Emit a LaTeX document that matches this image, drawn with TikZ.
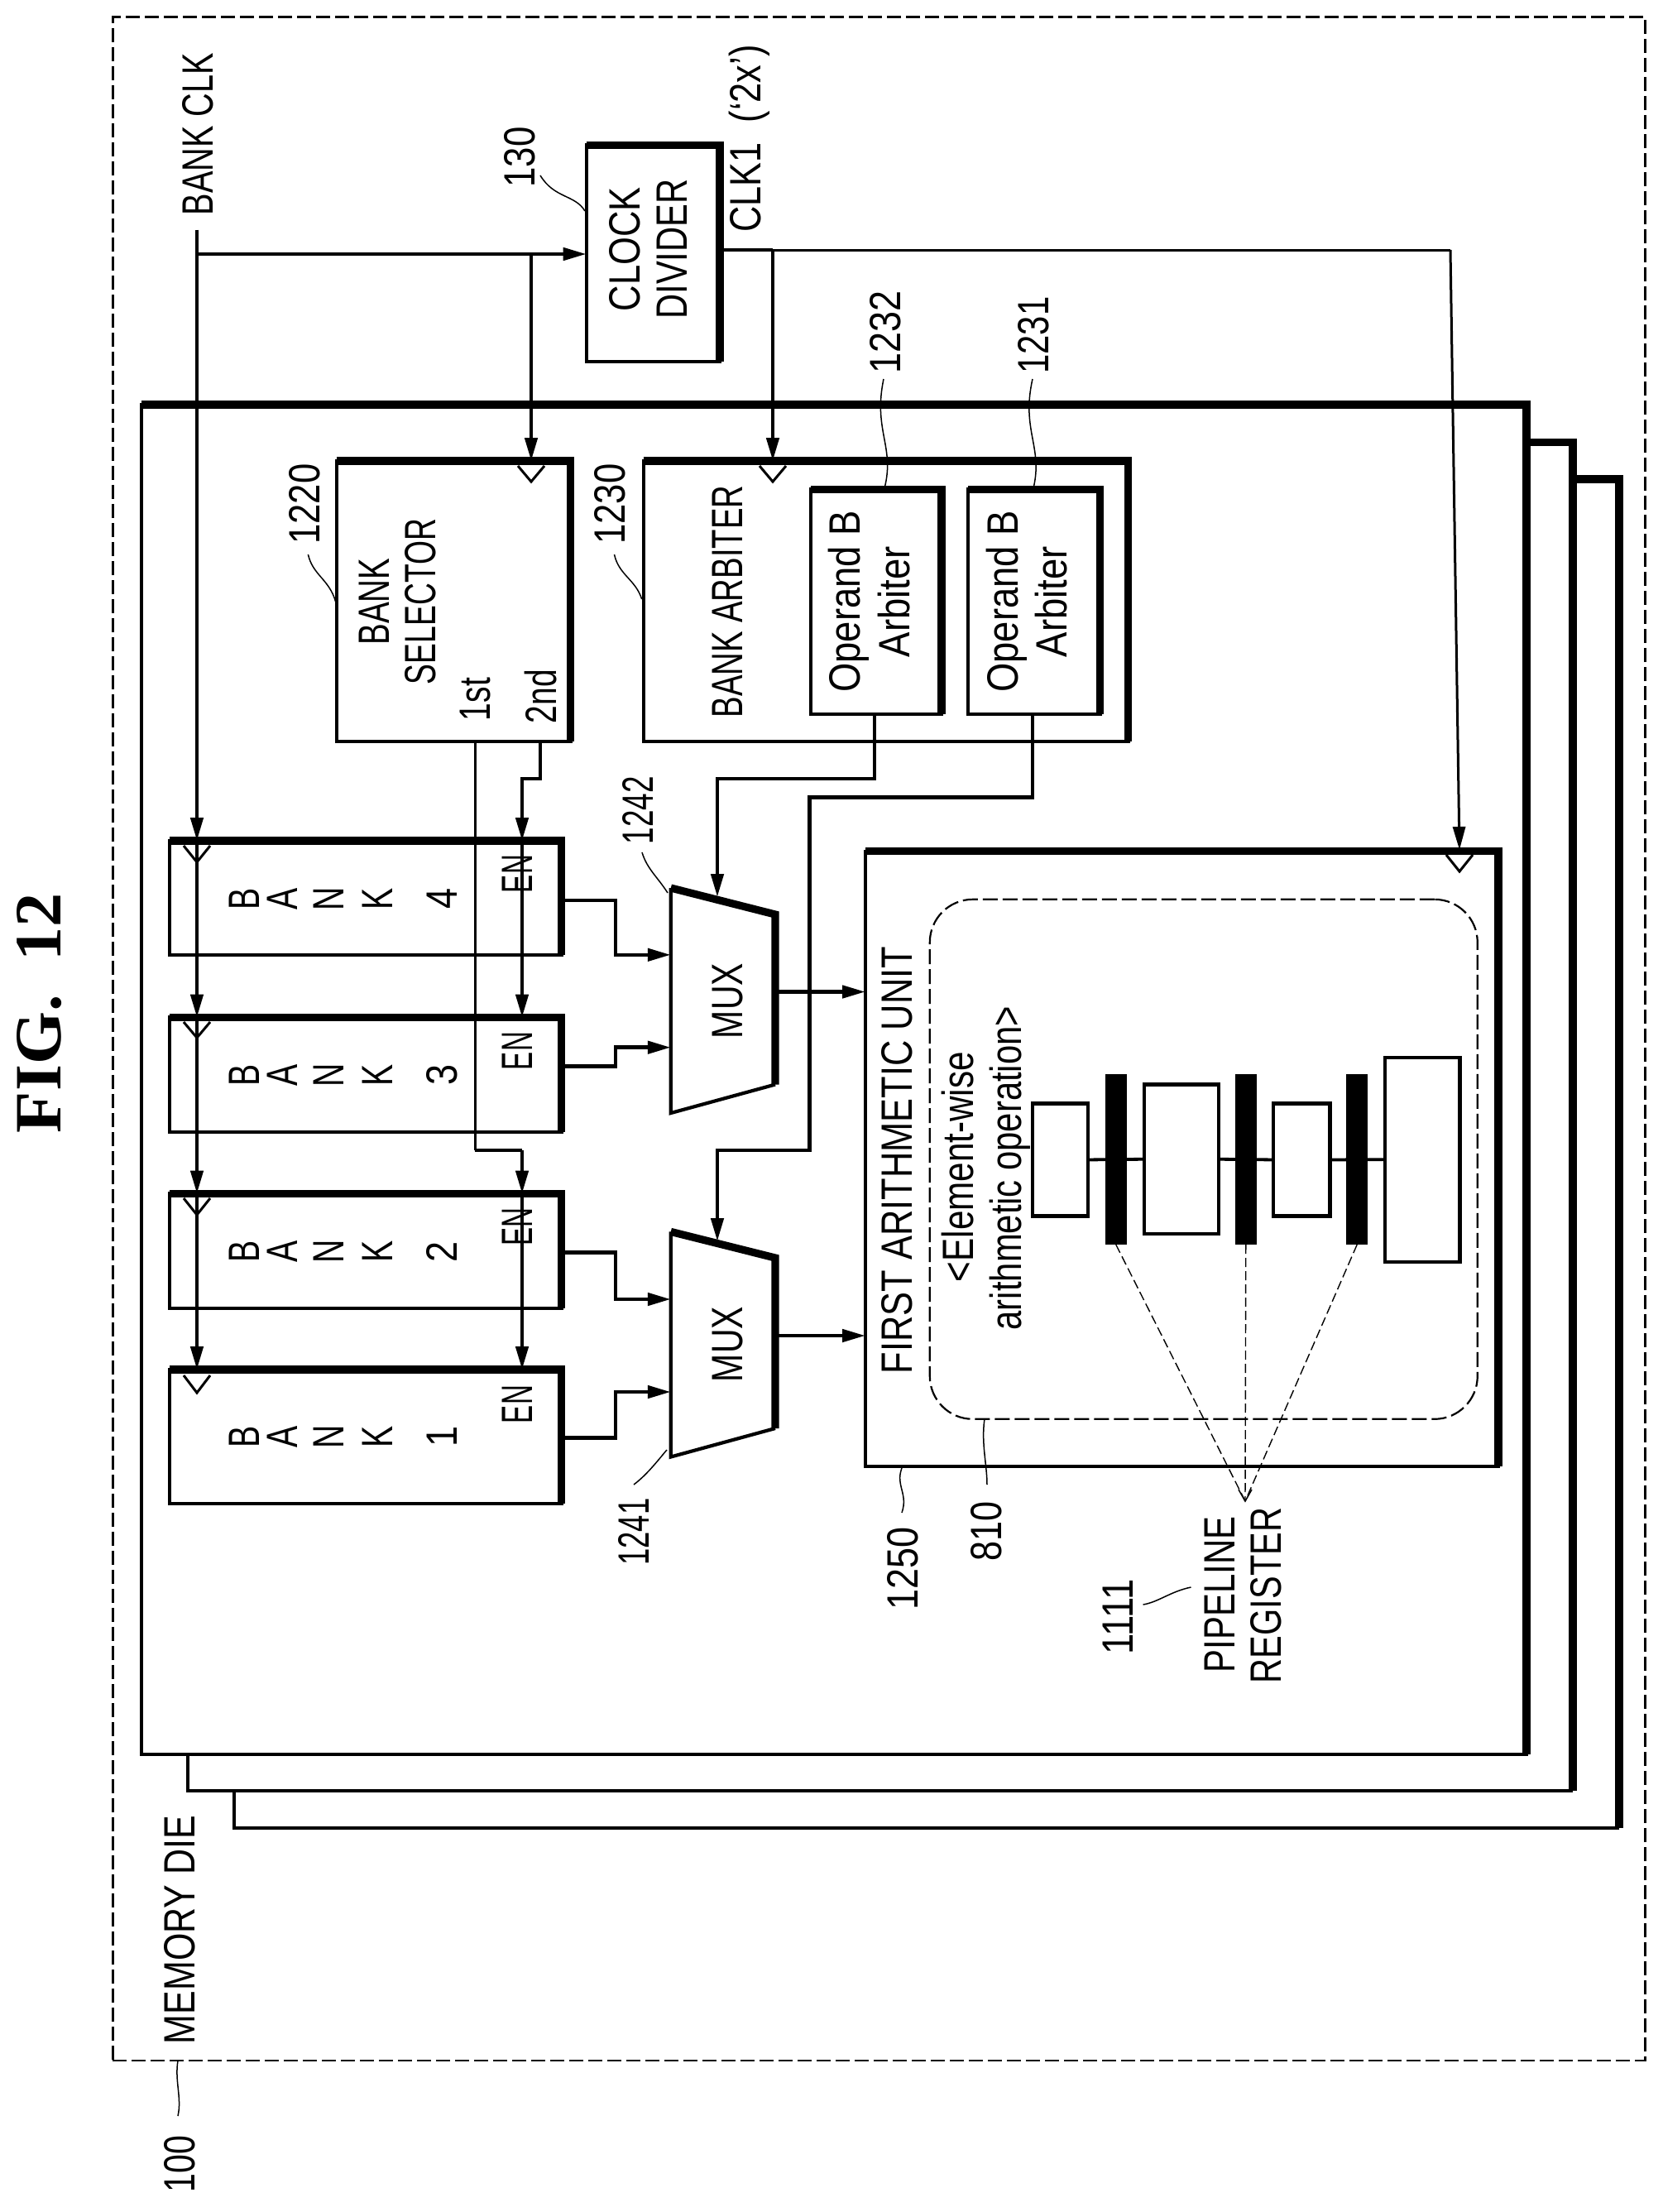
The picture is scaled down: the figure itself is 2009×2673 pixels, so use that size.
\documentclass[tikz,border=0pt]{standalone}
\usepackage{fontspec}
\usepackage{graphicx}
\setmainfont{Liberation Sans}
\newfontfamily\titlefont{Liberation Serif}
\usetikzlibrary{arrows.meta,calc}
\newcommand\TX[2]{\resizebox{\dimexpr#1pt/2\relax}{\height}{#2}}
\newcommand\Bp[5]{%
  \pgfmathsetmacro\bxw{(#4-#2)/2}\pgfmathsetmacro\bxh{(#5-#3)/2}%
  \pgfmathsetmacro\bxx{(#2+#4)/2}\pgfmathsetmacro\bxy{(#3+#5)/2}%
  \node[thinbox,minimum width=\bxw pt,minimum height=\bxh pt] (#1) at (\bxx,\bxy) {};
}
\newcommand\Bx[5]{%
  \Bp{#1}{#2}{#3}{#4}{#5}
  \draw[thickedge] (#1.north west) -- (#1.north east) -- (#1.south east);
}
\newcommand\Clk[3]{% x, ytop, yapex
  \draw[clkmark] (#1-16,#2) -- (#1,#3) -- (#1+16,#2);
}
\newcommand\Leader[5]{% name start c1 c2 end
  \coordinate (#1a) at (#2); \coordinate (#1b) at (#5);
  \draw[leader] (#1a) .. controls (#3) and (#4) .. (#1b);
}
\tikzset{
  thinbox/.style={draw,line width=2.1pt,rectangle,inner sep=0pt,outer sep=0pt},
  thickedge/.style={line width=4.6pt,line join=miter},
  thinedge/.style={line width=2.1pt,line join=miter},
  wire/.style={line width=2.3pt,line join=miter},
  fine/.style={line width=1.5pt,line join=miter},
  stub/.style={line width=1.9pt},
  tip/.style={-{Triangle[length=14pt,width=7.5pt]}},
  clkmark/.style={line width=1.5pt},
  leader/.style={line width=0.75pt},
  lbl/.style={rotate=90,inner sep=0pt,outer sep=0pt,text height=19pt,text depth=0pt,font=\fontsize{26.5}{30}\selectfont},
  letter/.style={lbl},
  dashbox/.style={draw,line width=1.1pt,dash pattern=on 8.5pt off 3pt,rectangle,inner sep=0pt,outer sep=0pt},
  pipedash/.style={line width=0.7pt,dash pattern=on 5.5pt off 2.5pt},
  inner/.style={draw,line width=1.1pt,rectangle,inner sep=0pt,outer sep=0pt},
  reg/.style={fill=black,rectangle,inner sep=0pt,outer sep=0pt},
}
\begin{document}
\begin{tikzpicture}[x=0.5pt,y=-0.5pt]
\path[use as bounding box,fill=white] (0,0) rectangle (2009,2673);

% title
\node[rotate=90,inner sep=0pt,font=\fontsize{40}{44}\selectfont\titlefont\bfseries,text height=26.5pt,text depth=0pt] (title) at (46.7,1224) {\resizebox{145pt}{\height}{FIG.\ \ 12}};

% memory die outline
\node[dashbox,minimum width=926pt,minimum height=1234.8pt] (die) at (1062.4,1255.2) {};
\node[lbl] (tdie) at (216,2332) {\TX{276}{MEMORY DIE}};
\node[lbl] (t100) at (216,2615) {\TX{68.5}{100}};
\Leader{L100}{215,2490}{211,2515}{220,2535}{215,2557}

% stacked dies
\Bx{main}{170.8}{489}{1845}{2119.6}
\draw[thickedge] (1845,534.6) -- (1901,534.6) -- (1901,2164);
\draw[thinedge] (1901,2164) -- (227,2164) -- (227,2119.6);
\draw[thickedge] (1901,579) -- (1957,579) -- (1957,2209);
\draw[thinedge] (1957,2209) -- (283,2209) -- (283,2164);

% clock divider
\Bx{cd}{708.7}{175.5}{870}{437}
\node[lbl] (tcd1) at (754.6,301) {\TX{150}{CLOCK}};
\node[lbl] (tcd2) at (811,301) {\TX{169}{DIVIDER}};
\node[lbl] (t130) at (627.6,190) {\TX{73}{130}};
\Leader{L130}{653,212}{670,240}{695,235}{707,255}
\node[lbl] (tclk) at (238.5,162) {\TX{196}{BANK CLK}};
\node[lbl] (tclk1) at (900,167.5) {\TX{226}{CLK1\ \ (‘2x’)}};

% bank selector
\Bx{sel}{407}{557}{689.5}{896}
\Clk{642}{563}{582}
\node[lbl] (ts1) at (451,727) {\TX{105}{BANK}};
\node[lbl] (ts2) at (507.7,727) {\TX{200}{SELECTOR}};
\node[lbl] (ts3) at (573.4,845) {\TX{52}{1st}};
\node[lbl] (ts4) at (653,841.5) {\TX{65}{2nd}};
\node[lbl] (t1220) at (367,609) {\TX{97}{1220}};
\Leader{L1220}{372.4,670}{378,695}{398,700}{405.6,727}

% bank arbiter
\Bx{arb}{777.6}{557}{1363.6}{896}
\Clk{934}{563}{582}
\node[lbl] (ta) at (878,727) {\TX{281}{BANK ARBITER}};
\node[lbl] (t1230) at (736,609) {\TX{97}{1230}};
\Leader{L1230}{742.5,670}{748,695}{768,700}{775.7,724}
\Bx{opb}{980}{591.4}{1138}{863}
\Bx{opa}{1170}{591.4}{1329.5}{863}
\node[lbl] (tb1) at (1020,727) {\TX{219.5}{Operand B}};
\node[lbl] (tb2) at (1080.6,727) {\TX{134}{Arbiter}};
\node[lbl] (tc1) at (1211,727) {\TX{219.5}{Operand B}};
\node[lbl] (tc2) at (1270,727) {\TX{134}{Arbiter}};
\node[lbl] (t1232) at (1069,401) {\TX{100}{1232}};
\node[lbl] (t1231) at (1248,405) {\TX{93}{1231}};
\Leader{L1232}{1068,458}{1055,520}{1082,540}{1069,590}
\Leader{L1231}{1248,458}{1234,520}{1261,540}{1249,590}

% banks
\Bx{bank4}{204.6}{1016}{678.7}{1153.8}
\Bx{bank3}{204.6}{1229.5}{678.7}{1368}
\Bx{bank2}{204.6}{1442.5}{678.7}{1581}
\Bx{bank1}{204.6}{1655}{678.7}{1817}
\Clk{238}{1022}{1041.8}
\Clk{238}{1235}{1254}
\Clk{238}{1448}{1468}
\Clk{238}{1662}{1683}
\foreach \n/\yy/\ye in {4/1086/1056,3/1299/1270,2/1512.5/1482.7,1/1736/1697}{
  \foreach \c/\xx/\id in {B/294.6/a,A/340.5/b,N/396.7/c,K/455.4/d}{
    \node[letter] (bk\n\id) at (\xx,\yy) {\scalebox{.74}[1]{\c}};
  }
  \node[letter] (bk\n e) at (533.2,\yy) {\scalebox{.85}[1]{\n}};
  \node[lbl] (en\n) at (624.5,\ye) {\TX{46}{EN}};
}

% muxes
\coordinate (m2a) at (810.8,1073); \coordinate (m2b) at (937,1105);
\coordinate (m2c) at (937,1310.5); \coordinate (m2d) at (810.8,1345);
\draw[thinedge] (m2c) -- (m2d) -- (m2a);
\draw[thickedge] (m2a) -- (m2b) -- (m2c);
\coordinate (m1a) at (810.8,1488.4); \coordinate (m1b) at (937,1520);
\coordinate (m1c) at (937,1726); \coordinate (m1d) at (810.8,1760.5);
\draw[thinedge] (m1c) -- (m1d) -- (m1a);
\draw[thickedge] (m1a) -- (m1b) -- (m1c);
\node[lbl] (tm2) at (878,1209.5) {\TX{91}{MUX}};
\node[lbl] (tm1) at (878,1624.5) {\TX{91}{MUX}};
\node[lbl] (t1242) at (770,979) {\TX{82}{1242}};
\node[lbl] (t1241) at (765,1851) {\TX{81}{1241}};
\Leader{L1242}{776,1030}{782,1050}{795,1060}{807,1079}
\Leader{L1241}{766,1794}{782,1782}{795,1765}{806,1752}

% arithmetic unit
\Bx{au}{1046}{1028.6}{1811}{1772}
\Clk{1764}{1033}{1053}
\node[lbl] (tau) at (1083.7,1402) {\TX{516}{FIRST ARITHMETIC UNIT}};
\node[inner,dash pattern=on 9pt off 3pt,rounded corners=26pt,minimum width=331pt,minimum height=314pt] (ew) at (1454.8,1400.8) {};
\node[lbl] (tew1) at (1157.7,1410) {\TX{278}{<Element-wise}};
\node[lbl] (tew2) at (1215.6,1411.5) {\TX{391.5}{arithmetic operation>}};
\node[lbl] (t1250) at (1090,1895) {\TX{100}{1250}};
\Leader{L1250}{1090,1774}{1082,1795}{1098,1805}{1090,1828}
\node[lbl] (t810) at (1191.8,1850) {\TX{72}{810}};
\Leader{L810}{1189.8,1716}{1186,1745}{1193,1770}{1193,1794}

% pipeline blocks
\Bp{blA}{1247.7}{1333.4}{1315}{1469.5}
\Bp{blB}{1383}{1310.5}{1473}{1491}
\Bp{blC}{1539}{1333.4}{1607.5}{1469.5}
\Bp{blD}{1673.7}{1277.8}{1764.5}{1524.6}
\node[reg,minimum width=12.8pt,minimum height=103pt] (rg1) at (1348.8,1401) {};
\node[reg,minimum width=12.8pt,minimum height=103pt] (rg2) at (1505.8,1401) {};
\node[reg,minimum width=12.8pt,minimum height=103pt] (rg3) at (1640.2,1401) {};
\draw[stub] (blA.east) -- (blB.west);
\draw[stub] (blB.east) -- (blC.west);
\draw[stub] (blC.east) -- (blD.west);
\coordinate (apex) at (1505,1814);
\draw[pipedash] (rg1.south) -- (apex);
\draw[pipedash] (rg2.south) -- (apex);
\draw[pipedash] (rg3.south) -- (apex);
\coordinate (apL) at (1497,1800); \coordinate (apR) at (1513,1800);
\draw[leader] (apL) -- (apex) -- (apR);
\node[lbl] (tp1) at (1473,1927) {\TX{188.6}{PIPELINE}};
\node[lbl] (tp2) at (1529,1928) {\TX{212}{REGISTER}};
\node[lbl] (t1111) at (1350.7,1954) {\TX{91}{1111}};
\Leader{L1111}{1381.6,1939}{1400,1936}{1415,1923}{1439.5,1918}

% clock wiring
\coordinate (clkT) at (238,277.5);
\coordinate (clkJ) at (238,307);
\coordinate (selJ) at (642,307);
\coordinate (ck4) at (clkT |- bank4.north);
\coordinate (ck3) at (clkT |- bank3.north);
\coordinate (ck2) at (clkT |- bank2.north);
\coordinate (ck1) at (clkT |- bank1.north);
\draw[wire,tip] (clkT) -- (ck4);
\draw[wire,tip] (ck4) -- (ck3);
\draw[wire,tip] (ck3) -- (ck2);
\draw[wire,tip] (ck2) -- (ck1);
\draw[wire,tip] (clkJ) -- (clkJ -| cd.west);
\draw[wire,tip] (selJ) -- (selJ |- sel.north);
\coordinate (cdo) at (870,302);
\coordinate (cdm) at (934,302);
\coordinate (cdr) at (1753,302);
\coordinate (auck) at (1764,1027);
\draw[fine] (cdo) -- (cdr);
\draw[fine,tip] (cdr) -- (auck);
\draw[wire] (cdo) -- (cdm);
\draw[wire,tip] (cdm) -- (cdm |- arb.north);

% selector wiring
\coordinate (s1a) at (574,896);
\coordinate (s1b) at (574,1390);
\coordinate (s1c) at (631,1390);
\coordinate (en2) at (s1c |- bank2.north);
\coordinate (en1) at (s1c |- bank1.north);
\draw[fine] (s1a) -- (s1b);
\draw[wire] (s1b) -- (s1c);
\draw[wire,tip] (s1c) -- (en2);
\draw[wire,tip] (en2) -- (en1);
\coordinate (s2a) at (653,896);
\coordinate (s2b) at (653,941);
\coordinate (s2c) at (631,941);
\coordinate (en4) at (s2c |- bank4.north);
\coordinate (en3) at (s2c |- bank3.north);
\draw[wire,tip] (s2a) -- (s2b) -- (s2c) -- (en4);
\draw[wire,tip] (en4) -- (en3);

% arbiter wiring
\coordinate (o2a) at (1057,863);
\coordinate (o2b) at (1057,941);
\coordinate (o2c) at (867,941);
\coordinate (o2d) at (867,1084);
\draw[wire,tip] (o2a) -- (o2b) -- (o2c) -- (o2d);
\coordinate (o1a) at (1248,863);
\coordinate (o1b) at (1248,963.5);
\coordinate (o1c) at (978.6,963.5);
\coordinate (o1d) at (978.6,1390);
\coordinate (o1e) at (867,1390);
\coordinate (o1f) at (867,1500);
\draw[wire,tip] (o1a) -- (o1b) -- (o1c) -- (o1d) -- (o1e) -- (o1f);

% bank to mux wiring
\coordinate (b4o) at (678.7,1088); \coordinate (b4m) at (743.8,1088); \coordinate (b4n) at (743.8,1153.8); \coordinate (b4t) at (810.8,1153.8);
\coordinate (b3o) at (678.7,1288.7); \coordinate (b3m) at (743.8,1288.7); \coordinate (b3n) at (743.8,1265.7); \coordinate (b3t) at (810.8,1265.7);
\coordinate (b2o) at (678.7,1513.7); \coordinate (b2m) at (743.8,1513.7); \coordinate (b2n) at (743.8,1570); \coordinate (b2t) at (810.8,1570);
\coordinate (b1o) at (678.7,1737.5); \coordinate (b1m) at (743.8,1737.5); \coordinate (b1n) at (743.8,1682); \coordinate (b1t) at (810.8,1682);
\draw[wire,tip] (b4o) -- (b4m) -- (b4n) -- (b4t);
\draw[wire,tip] (b3o) -- (b3m) -- (b3n) -- (b3t);
\draw[wire,tip] (b2o) -- (b2m) -- (b2n) -- (b2t);
\draw[wire,tip] (b1o) -- (b1m) -- (b1n) -- (b1t);

% mux to arithmetic unit
\coordinate (mo2) at (937,1198.5);
\coordinate (mo1) at (937,1614);
\draw[wire,tip] (mo2) -- (mo2 -| au.west);
\draw[wire,tip] (mo1) -- (mo1 -| au.west);
\end{tikzpicture}
\end{document}
